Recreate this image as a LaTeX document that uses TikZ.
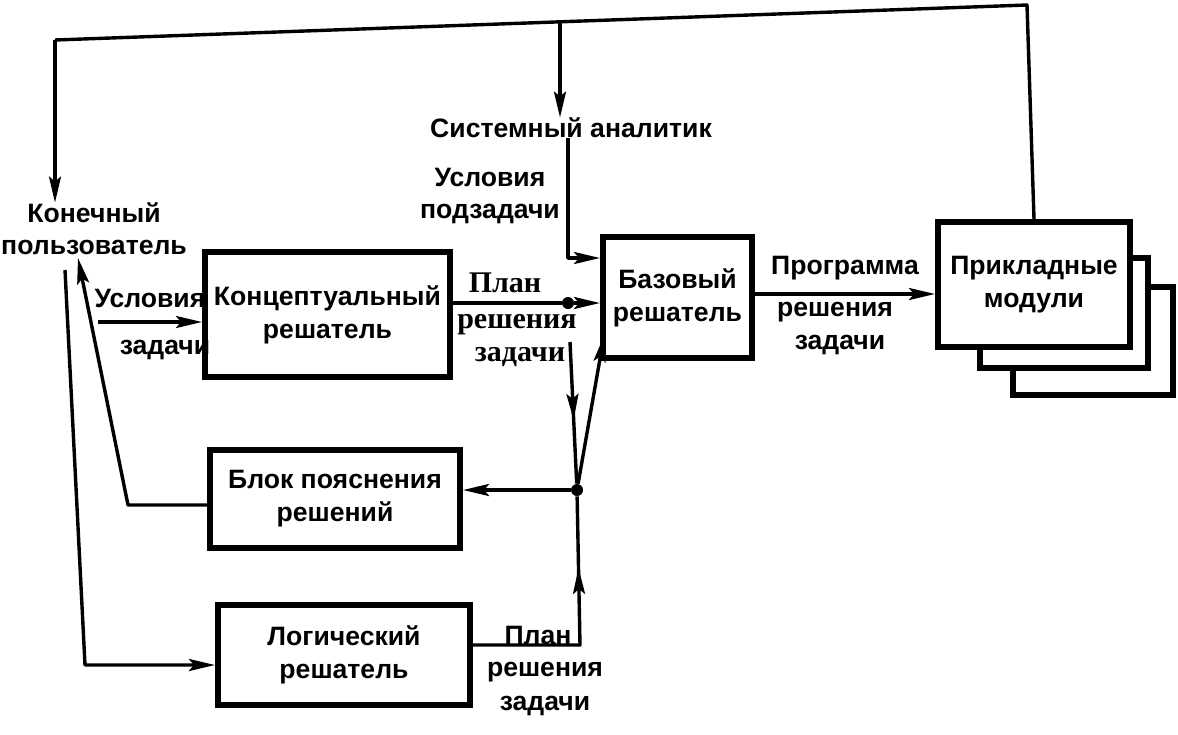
\documentclass[tikz,border=0pt]{standalone}
\usepackage{fontspec}
\setmainfont{Liberation Sans}
\newfontfamily\serifrm{Liberation Serif}
\usetikzlibrary{arrows.meta,decorations.markings}
\tikzset{
  tip/.tip={Stealth[length=13pt,width=6pt,inset=2.5pt]},
  box/.style={draw, line width=3pt, fill=white, inner sep=0pt, align=center,
              font=\bfseries\fontsize{13.3}{16.5}\selectfont},
  lbl/.style={inner sep=0pt, align=center, font=\bfseries\fontsize{13.3}{16}\selectfont},
  slbl/.style={inner sep=0pt, font=\serifrm\bfseries\fontsize{15}{16}\selectfont},
  conn/.style={line width=1.7pt, line join=round},
  arr/.style={conn, -tip},
  midarr/.style={postaction={decorate, decoration={markings,
      mark=at position #1 with {\arrow{tip}}}}},
  jdot/.style={circle, fill, inner sep=0pt, minimum size=6pt}
}
\begin{document}
\begin{tikzpicture}[x=0.5pt,y=-0.5pt]
\useasboundingbox (0,0) rectangle (1178,734);

% boxes
\node[box, minimum width=122.5pt, minimum height=62.5pt] (konc) at (327.5,314.5) {Концептуальный\\решатель};
\node[box, minimum width=74.5pt, minimum height=60.5pt] (baz) at (677.5,297.5) {Базовый\\решатель};
\node[box, minimum width=80pt, minimum height=54pt] (prik3) at (1093,341) {};
\node[box, minimum width=84pt, minimum height=55pt] (prik2) at (1064,313) {};
\node[box, minimum width=96pt, minimum height=62.5pt] (prik) at (1034,284.5) {Прикладные\\модули};
\node[box, minimum width=125pt, minimum height=49pt] (blok) at (335,499) {Блок пояснения\\решений};
\node[box, minimum width=126pt, minimum height=50pt] (log) at (344,655) {Логический\\решатель};

% actors
\node[lbl] (kon) at (94,229) {Конечный\\пользователь};
\node[lbl] (sys) at (571,128) {Системный аналитик};
\node[lbl] (uslp) at (490,196) {Условия\\подзадачи};

% top feedback line
\coordinate (topL) at (55,40);
\coordinate (topR) at (1027,5);
\coordinate (topS) at (560,22);
\draw[conn] (prik.north) -- (topR) -- (topL);
\draw[arr] (topL) -- (kon.north -| topL);
\draw[arr] (topS) -- (sys.north -| topS);

% system analyst -> base solver
\coordinate (c1) at (568,258);
\draw[arr] (sys.south -| c1) -- (c1) -- (c1 -| baz.west);

% task conditions
\coordinate (uz) at (98,322);
\draw[arr] (uz) -- (uz -| konc.west);
\node[lbl] (uz1) at (150,298) {Условия};
\node[lbl] (uz2) at (165,350) {задачи};

% user -> logical solver
\coordinate (la1) at (65,270);
\coordinate (la2) at (85,665);
\draw[arr] (la1) -- (la2) -- (la2 -| log.west);

% explanation -> user
\coordinate (lb1) at (128,505);
\coordinate (lb2) at (78,258);
\draw[arr] (blok.west |- lb1) -- (lb1) -- (lb2);

% plan from conceptual solver
\node[jdot] (d1) at (568,303) {};
\draw[arr] (konc.east |- d1) -- (d1) -- (d1 -| baz.west);
\node[slbl] (p1) at (505,283) {План};
\node[slbl] (p2) at (517,325) {решения};
\node[slbl] (p3) at (520,357) {задачи};

% junction
\coordinate (v1) at (570,342);
\node[jdot] (J) at (577,490) {};
\draw[conn, midarr=0.55] (v1) -- (J);
\draw[arr] (J) -- (J -| blok.east);
\coordinate (bz) at (604,336);
\draw[arr] (J) -- (bz);

% plan from logical solver
\coordinate (lg) at (580,645);
\draw[conn, midarr=0.72] (log.east |- lg) -- (lg) -- (J);
\node[lbl] (q1) at (538,635) {План};
\node[lbl] (q2) at (545,672) {решения};
\node[lbl] (q3) at (545,706) {задачи};

% program
\coordinate (pr) at (752,294);
\draw[arr] (baz.east |- pr) -- (pr -| prik.west);
\node[lbl] (r1) at (845,268) {Программа};
\node[lbl] (r2) at (835,312) {решения};
\node[lbl] (r3) at (840,345) {задачи};
\end{tikzpicture}
\end{document}
